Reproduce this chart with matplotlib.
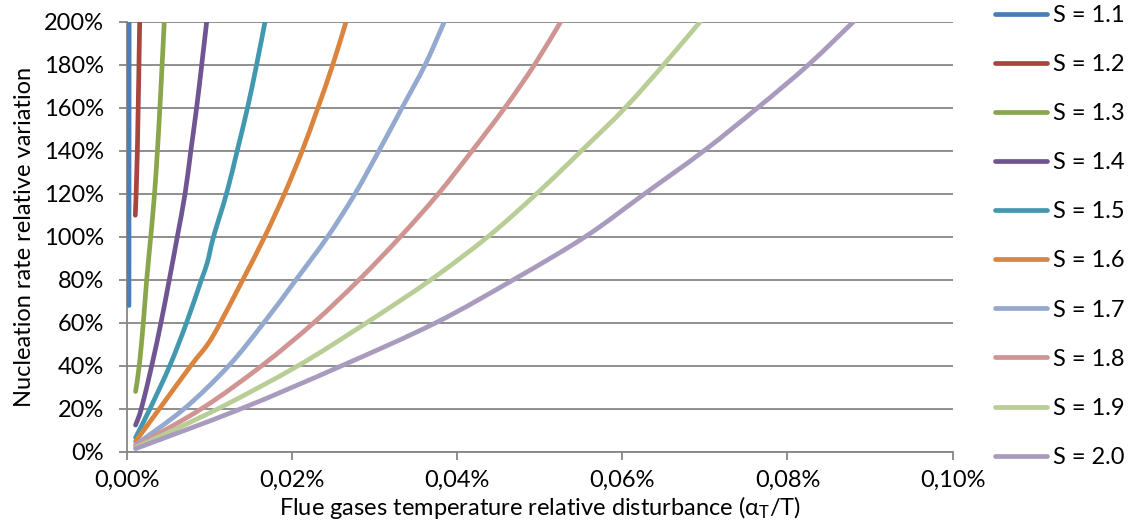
import matplotlib
matplotlib.use("Agg")
import matplotlib.pyplot as plt
from matplotlib.path import Path
from matplotlib.patches import PathPatch

plt.rcParams['font.family'] = ['Lato', 'DejaVu Sans']
plt.rcParams['mathtext.fontset'] = 'custom'
plt.rcParams['mathtext.rm'] = 'Lato'
plt.rcParams['mathtext.it'] = 'Lato:italic'

# ---- data (x in %, y in %) ----
labels = ["S = 1.1", "S = 1.2", "S = 1.3", "S = 1.4", "S = 1.5",
          "S = 1.6", "S = 1.7", "S = 1.8", "S = 1.9", "S = 2.0"]
colors = ["#4A7EBB", "#A9443F", "#8AA64C", "#6F5592", "#4198AF",
          "#DB843D", "#93A9CF", "#D09493", "#B9CD96", "#A99BBD"]

x_s11 = [0.00020, 0.00022]
y_s11 = [68, 200]
x_s12 = [0.00097, 0.00122, 0.00150]
y_s12 = [110, 140, 200]
x_s13 = [0.00100, 0.00145, 0.00194, 0.00235, 0.00284, 0.00330, 0.00365, 0.00395, 0.00422, 0.00448]
y_s13 = [28, 40, 60, 80, 100, 120, 140, 160, 180, 200]
x_s14 = [0.00100, 0.00170, 0.00296, 0.00408, 0.00509, 0.00606, 0.00700, 0.00770, 0.00840, 0.00902, 0.00962]
y_s14 = [12.4, 20, 40, 60, 80, 100, 120, 140, 160, 180, 200]
x_s15 = [0.00100, 0.00275, 0.00515, 0.00718, 0.00898, 0.00970, 0.01045, 0.01202, 0.01332, 0.01457, 0.01567, 0.01669]
y_s15 = [6.5, 20, 40, 60, 80, 88, 100, 120, 140, 160, 180, 200]
x_s16 = [0.00100, 0.00390, 0.00770, 0.00975, 0.01128, 0.01400, 0.01665, 0.01905, 0.02120, 0.02310, 0.02490, 0.02651]
y_s16 = [4.8, 20, 40, 50, 60, 80, 100, 120, 140, 160, 180, 200]
x_s17 = [0.00100, 0.00690, 0.01230, 0.01655, 0.02045, 0.02428, 0.02760, 0.03050, 0.03330, 0.03610, 0.03842]
y_s17 = [3.2, 20, 40, 60, 80, 100, 120, 140, 160, 180, 200]
x_s18 = [0.00100, 0.00900, 0.01630, 0.02260, 0.02810, 0.03310, 0.03770, 0.04180, 0.04575, 0.04935, 0.05253]
y_s18 = [2.5, 20, 40, 60, 80, 100, 120, 140, 160, 180, 200]
x_s19 = [0.00100, 0.01100, 0.02070, 0.02900, 0.03680, 0.04370, 0.04960, 0.05505, 0.06035, 0.06500, 0.06942]
y_s19 = [1.9, 20, 40, 60, 80, 100, 120, 140, 160, 180, 200]
x_s20 = [0.00100, 0.01380, 0.02600, 0.03740, 0.04680, 0.05550, 0.06270, 0.06990, 0.07640, 0.08255, 0.08800]
y_s20 = [1.4, 20, 40, 60, 80, 100, 120, 140, 160, 180, 200]

xs = [x_s11, x_s12, x_s13, x_s14, x_s15, x_s16, x_s17, x_s18, x_s19, x_s20]
ys = [y_s11, y_s12, y_s13, y_s14, y_s15, y_s16, y_s17, y_s18, y_s19, y_s20]

x_ticks = [0.0, 0.02, 0.04, 0.06, 0.08, 0.10]
x_tick_labels = ["0,00%", "0,02%", "0,04%", "0,06%", "0,08%", "0,10%"]
y_ticks = [0, 20, 40, 60, 80, 100, 120, 140, 160, 180, 200]
y_tick_labels = ["0%", "20%", "40%", "60%", "80%", "100%", "120%", "140%", "160%", "180%", "200%"]


def smooth_path(x, y):
    """Smoothed (Catmull-Rom style, like a spreadsheet 'smoothed line') Bezier path
    passing through the given data points."""
    pts = list(zip(x, y))
    n = len(pts)
    verts = [pts[0]]
    codes = [Path.MOVETO]
    for i in range(n - 1):
        p0 = pts[i - 1] if i > 0 else pts[i]
        p1 = pts[i]
        p2 = pts[i + 1]
        p3 = pts[i + 2] if i + 2 < n else pts[i + 1]
        c1 = (p1[0] + (p2[0] - p0[0]) / 6.0, p1[1] + (p2[1] - p0[1]) / 6.0)
        c2 = (p2[0] - (p3[0] - p1[0]) / 6.0, p2[1] - (p3[1] - p1[1]) / 6.0)
        verts += [c1, c2, p2]
        codes += [Path.CURVE4, Path.CURVE4, Path.CURVE4]
    return Path(verts, codes)


# ---- figure ----
W, H = 1128, 529
fig = plt.figure(figsize=(W / 100, H / 100), dpi=100)
ax = fig.add_axes([127.3 / W, 1 - 451.7 / H, (952.5 - 127.3) / W, (451.7 - 21.7) / H])

grid_c = "#868686"
LW = 3.4
for x, y, c, lab in zip(xs, ys, colors, labels):
    patch = PathPatch(smooth_path(x, y), facecolor='none', edgecolor=c, lw=LW,
                      capstyle='round', joinstyle='round', zorder=3)
    ax.add_patch(patch)
    ax.plot([], [], color=c, lw=LW, label=lab, solid_capstyle='round')

ax.set_xlim(0, 0.10)
ax.set_ylim(0, 200)
ax.set_xticks(x_ticks)
ax.set_xticklabels(x_tick_labels)
ax.set_yticks(y_ticks)
ax.set_yticklabels(y_tick_labels)

ax.grid(axis='y', color=grid_c, lw=1.3, zorder=1)
ax.set_axisbelow(True)
for s in ['top', 'right']:
    ax.spines[s].set_visible(False)
for s in ['left', 'bottom']:
    ax.spines[s].set_color(grid_c)
    ax.spines[s].set_linewidth(1.3)

fs = 17
ax.tick_params(axis='both', colors=grid_c, labelcolor='black', labelsize=fs,
               length=6, width=1.3, direction='out')
ax.tick_params(axis='y', pad=11)
ax.tick_params(axis='x', pad=7)

ax.set_xlabel(r'Flue gases temperature relative disturbance (α$_{\mathrm{T}}$/T)',
              fontsize=fs, labelpad=2)
ax.set_ylabel('Nucleation rate relative variation', fontsize=fs, labelpad=6)

leg = ax.legend(loc='upper left', bbox_to_anchor=(995 / W, 1 - 5.0 / H),
                bbox_transform=fig.transFigure, frameon=False, fontsize=fs,
                handlelength=2.2, handletextpad=0.26, labelspacing=1.19,
                borderpad=0, borderaxespad=0)

fig.savefig("out.png", dpi=100)
